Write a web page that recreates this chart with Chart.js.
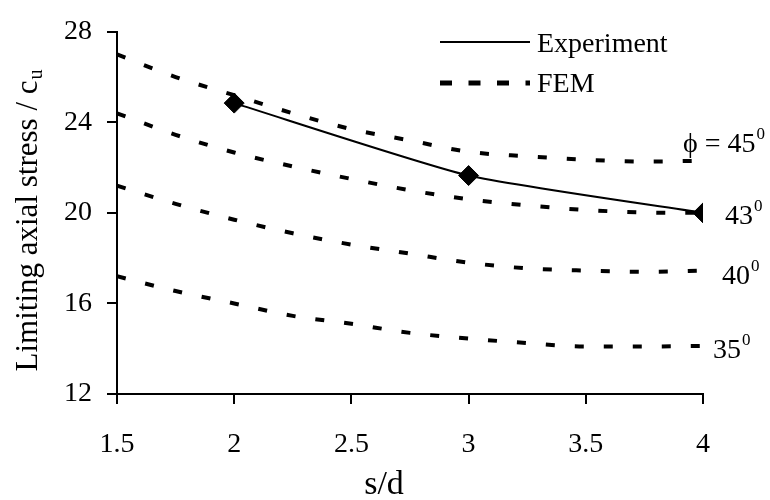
<!DOCTYPE html>
<html>
<head>
<meta charset="utf-8">
<script src="https://cdn.jsdelivr.net/npm/chart.js@4.4.1/dist/chart.umd.min.js"></script>
<style>
  html, body { margin: 0; padding: 0; background: #fff; }
</style>
</head>
<body>
<canvas id="chart" width="770" height="500"></canvas>
<script>
// s/d positions the FEM curves were read at
const sd = [1.5, 1.75, 2, 2.25, 2.5, 2.75, 3, 3.25, 3.5, 3.75, 4];
const fem45 = [27.0, 26.0, 25.2, 24.4, 23.7, 23.2, 22.7, 22.5, 22.35, 22.27, 22.3];
const fem43 = [24.4, 23.45, 22.67, 22.05, 21.5, 21.0, 20.6, 20.33, 20.13, 20.02, 20.0];
const fem40 = [21.2, 20.4, 19.7, 19.1, 18.6, 18.2, 17.8, 17.55, 17.45, 17.4, 17.45];
const fem35 = [17.2, 16.55, 16.0, 15.45, 15.1, 14.7, 14.45, 14.25, 14.1, 14.1, 14.12];

const expSd = [2, 3, 4];
const expStress = [24.85, 21.65, 20.0];

const phiLabels = ['ϕ = 45', '43', '40', '35'];
const xTicks = [1.5, 2, 2.5, 3, 3.5, 4];
const yTicks = [12, 16, 20, 24, 28];
const legendLabels = ['Experiment', 'FEM'];
const xTitle = 's/d';
const yTitle = 'Limiting axial stress / c';
const yTitleSub = 'u';

const SERIF = '"Liberation Serif", "DejaVu Serif", serif';
const INK = '#000';

const pts = (xs, ys) => xs.map((x, i) => ({ x, y: ys[i] }));

const femStyle = {
  borderColor: INK,
  borderWidth: 4,
  borderDash: [9, 20],
  pointRadius: 0,
  fill: false,
  cubicInterpolationMode: 'monotone'
};

const femSets = [fem45, fem43, fem40, fem35];

// label offsets from the last point of each FEM curve (px)
const labelOffsets = [[-20, -9], [22, 11], [19, 13], [10, 12]];

const textPlugin = {
  id: 'texts',
  afterDraw(chart) {
    const { ctx, scales: { x, y } } = chart;
    ctx.save();
    ctx.fillStyle = INK;
    ctx.strokeStyle = INK;

    // y title with subscript
    ctx.save();
    ctx.translate(37, 221);
    ctx.rotate(-Math.PI / 2);
    ctx.font = `31px ${SERIF}`;
    const w1 = ctx.measureText(yTitle).width;
    ctx.font = `20px ${SERIF}`;
    const w2 = ctx.measureText(yTitleSub).width;
    const start = -(w1 + w2) / 2;
    ctx.textBaseline = 'alphabetic';
    ctx.textAlign = 'left';
    ctx.font = `31px ${SERIF}`;
    ctx.fillText(yTitle, start, 0);
    ctx.font = `20px ${SERIF}`;
    ctx.fillText(yTitleSub, start + w1 + 1, 5);
    ctx.restore();

    // x title
    ctx.font = `34px ${SERIF}`;
    ctx.textAlign = 'center';
    ctx.textBaseline = 'alphabetic';
    ctx.fillText(xTitle, 384, 494);

    // phi labels at the end of each FEM curve
    ctx.textAlign = 'left';
    femSets.forEach((arr, i) => {
      const px = x.getPixelForValue(sd[sd.length - 1]) + labelOffsets[i][0];
      const py = y.getPixelForValue(arr[arr.length - 1]) + labelOffsets[i][1];
      ctx.font = `28px ${SERIF}`;
      ctx.fillText(phiLabels[i], px, py);
      const w = ctx.measureText(phiLabels[i]).width;
      ctx.font = `17px ${SERIF}`;
      ctx.fillText('0', px + w + 1, py - 13);
    });

    // legend
    const lx0 = 440, lx1 = 530, tx = 537;
    ctx.lineWidth = 2;
    ctx.setLineDash([]);
    ctx.beginPath();
    ctx.moveTo(lx0, 42);
    ctx.lineTo(lx1, 42);
    ctx.stroke();
    ctx.lineWidth = 5;
    ctx.setLineDash([12, 16.5]);
    ctx.beginPath();
    ctx.moveTo(lx0, 83);
    ctx.lineTo(lx1, 83);
    ctx.stroke();
    ctx.setLineDash([]);
    ctx.font = `28px ${SERIF}`;
    ctx.textBaseline = 'alphabetic';
    ctx.fillText(legendLabels[0], tx, 52);
    ctx.fillText(legendLabels[1], tx, 92);
    ctx.restore();
  }
};

const axisGrid = {
  display: true,
  drawOnChartArea: false,
  drawTicks: true,
  tickLength: 10,
  color: INK,
  lineWidth: 2
};

new Chart(document.getElementById('chart'), {
  type: 'line',
  data: {
    datasets: [
      ...femSets.map(arr => ({ label: 'FEM', data: pts(sd, arr), ...femStyle })),
      {
        label: 'Experiment',
        data: pts(expSd, expStress),
        borderColor: INK,
        backgroundColor: INK,
        borderWidth: 2,
        tension: 0.18,
        pointStyle: 'rectRot',
        pointRadius: 10,
        pointBorderWidth: 1,
        fill: false
      }
    ]
  },
  options: {
    responsive: false,
    animation: false,
    devicePixelRatio: 1,
    layout: { padding: { top: 28, right: 67, left: 0, bottom: 0 } },
    plugins: { legend: { display: false }, tooltip: { enabled: false } },
    scales: {
      x: {
        type: 'linear',
        min: 1.5,
        max: 4,
        afterBuildTicks: s => { s.ticks = xTicks.map(v => ({ value: v })); },
        afterFit: s => { s.height = 106; },
        ticks: { color: INK, font: { family: SERIF, size: 28 }, padding: 24, maxRotation: 0, callback: v => String(v) },
        grid: axisGrid,
        border: { display: true, color: INK, width: 2 }
      },
      y: {
        min: 12,
        max: 28,
        afterBuildTicks: s => { s.ticks = yTicks.map(v => ({ value: v })); },
        afterFit: s => { s.width = 117; },
        ticks: { color: INK, font: { family: SERIF, size: 28 }, padding: 15, callback: v => String(v) },
        grid: axisGrid,
        border: { display: true, color: INK, width: 2 }
      }
    }
  },
  plugins: [textPlugin]
});
</script>
</body>
</html>
